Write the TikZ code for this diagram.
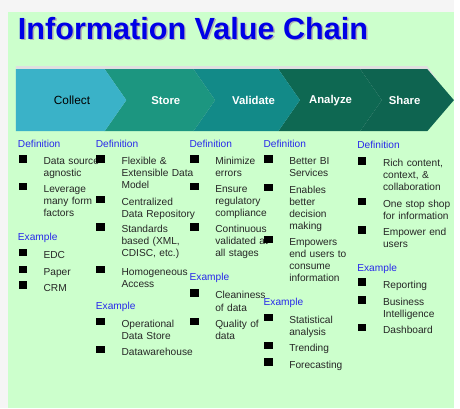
\documentclass[tikz,border=0pt]{standalone}
\usepackage{fontspec}
\setmainfont{Liberation Sans}
\definecolor{panel}{RGB}{204,255,204}
\definecolor{ttlblue}{RGB}{0,0,230}
\definecolor{hdblue}{RGB}{40,40,235}
\definecolor{chA}{RGB}{58,178,200}
\definecolor{chB}{RGB}{28,150,128}
\definecolor{chC}{RGB}{18,138,136}
\definecolor{chD}{RGB}{14,104,82}
\definecolor{chE}{RGB}{14,100,80}

\begin{document}
\begin{tikzpicture}[x=1pt,y=-1pt,
  hd/.style={anchor=base west,inner sep=0,font=\fontsize{10.3}{12}\selectfont,text=hdblue},
  txt/.style={anchor=base west,inner sep=0,align=left,text width=78pt,font=\fontsize{10.3}{12.2}\selectfont,text=black!85},
  sq/.style={fill=black,inner sep=0,minimum width=8.5pt,minimum height=7.5pt},
  chlab/.style={font=\fontsize{11.5}{12}\selectfont\bfseries,text=white,inner sep=0}]
\def\xa{18}
\def\xb{97}
\def\xc{192}
\def\xd{267}
\def\xe{362}
\def\dt{26}
\def\bl{6}
\def\ct{70}
\def\cb{133}
\def\tip{22}

\fill[gray!8] (0,0) rectangle (460,414);
\fill[panel] (8,12) rectangle (460,414);

\node[anchor=base west,inner sep=0,font=\fontsize{31}{32}\selectfont\bfseries,text=gray!60] (ttlS) at (19.5,41.5) {Information Value Chain};
\node[anchor=base west,inner sep=0,font=\fontsize{31}{32}\selectfont\bfseries,text=ttlblue] (ttl) at (18,40) {Information Value Chain};

\fill[gray!25] (16,\ct-3) -- (433,\ct-3) -- (433+\tip,0.5*\ct+0.5*\cb-3) -- (433,\cb-3) -- (16,\cb-3) -- cycle;
\fill[chE] (365,\ct) -- (433,\ct) -- (460,0.5*\ct+0.5*\cb) -- (433,\cb) -- (365,\cb) -- (365+\tip,0.5*\ct+0.5*\cb) -- cycle;
\fill[chD] (282,\ct) -- (365,\ct) -- (365+\tip,0.5*\ct+0.5*\cb) -- (365,\cb) -- (282,\cb) -- (282+\tip,0.5*\ct+0.5*\cb) -- cycle;
\fill[chC] (196,\ct) -- (282,\ct) -- (282+\tip,0.5*\ct+0.5*\cb) -- (282,\cb) -- (196,\cb) -- (196+\tip,0.5*\ct+0.5*\cb) -- cycle;
\fill[chB] (106,\ct) -- (196,\ct) -- (196+\tip,0.5*\ct+0.5*\cb) -- (196,\cb) -- (106,\cb) -- (106+\tip,0.5*\ct+0.5*\cb) -- cycle;
\fill[chA] (16,\ct) -- (106,\ct) -- (106+\tip,0.5*\ct+0.5*\cb) -- (106,\cb) -- (16,\cb) -- cycle;

\node[chlab,text=black,font=\fontsize{12}{12}\selectfont] (collect) at (73,101.5) {Collect};
\node[chlab] (store) at (168,101.5) {Store};
\node[chlab] (validate) at (257,101.5) {Validate};
\node[chlab] (analyze) at (335,101.5) {Analyze};
\node[chlab] (share) at (410,101.5) {Share};

\node[hd] (defA) at (\xa,143+\bl) {Definition};
\node[sq] (sqA1) at (\xa+5,161) {};
\node[txt] (itA1) at (\xa+\dt,161+\bl) {Data source\\agnostic};
\node[sq] (sqA2) at (\xa+5,189) {};
\node[txt] (itA2) at (\xa+\dt,189+\bl) {Leverage\\many form\\factors};
\node[hd] (exA) at (\xa,238+\bl) {Example};
\node[sq] (sqA3) at (\xa+5,256) {};
\node[txt] (itA3) at (\xa+\dt,256+\bl) {EDC};
\node[sq] (sqA4) at (\xa+5,273) {};
\node[txt] (itA4) at (\xa+\dt,273+\bl) {Paper};
\node[sq] (sqA5) at (\xa+5,289) {};
\node[txt] (itA5) at (\xa+\dt,289+\bl) {CRM};

\node[hd] (defB) at (\xb,143+\bl) {Definition};
\node[sq] (sqB1) at (\xb+5,161) {};
\node[txt] (itB1) at (\xb+\dt,161+\bl) {Flexible \&\\Extensible Data\\Model};
\node[sq] (sqB2) at (\xb+5,202) {};
\node[txt] (itB2) at (\xb+\dt,202+\bl) {Centralized\\Data Repository};
\node[sq] (sqB3) at (\xb+5,230) {};
\node[txt] (itB3) at (\xb+\dt,230+\bl) {Standards\\based (XML,\\CDISC, etc.)};
\node[sq] (sqB4) at (\xb+5,273) {};
\node[txt] (itB4) at (\xb+\dt,273+\bl) {Homogeneous\\Access};
\node[hd] (exB) at (\xb,308+\bl) {Example};
\node[sq] (sqB5) at (\xb+5,326) {};
\node[txt] (itB5) at (\xb+\dt,326+\bl) {Operational\\Data Store};
\node[sq] (sqB6) at (\xb+5,354) {};
\node[txt] (itB6) at (\xb+\dt,354+\bl) {Datawarehouse};

\node[hd] (defC) at (\xc,143+\bl) {Definition};
\node[sq] (sqC1) at (\xc+5,161) {};
\node[txt] (itC1) at (\xc+\dt,161+\bl) {Minimize\\errors};
\node[sq] (sqC2) at (\xc+5,189) {};
\node[txt] (itC2) at (\xc+\dt,189+\bl) {Ensure\\regulatory\\compliance};
\node[sq] (sqC3) at (\xc+5,230) {};
\node[txt] (itC3) at (\xc+\dt,230+\bl) {Continuous\\validated at\\all stages};
\node[hd] (exC) at (\xc,278+\bl) {Example};
\node[sq] (sqC4) at (\xc+5,297) {};
\node[txt] (itC4) at (\xc+\dt,297+\bl) {Cleaniness\\of data};
\node[sq] (sqC5) at (\xc+5,326) {};
\node[txt] (itC5) at (\xc+\dt,326+\bl) {Quality of\\data};

\node[hd] (defD) at (\xd,143+\bl) {Definition};
\node[sq] (sqD1) at (\xd+5,161) {};
\node[txt] (itD1) at (\xd+\dt,161+\bl) {Better BI\\Services};
\node[sq] (sqD2) at (\xd+5,190) {};
\node[txt] (itD2) at (\xd+\dt,190+\bl) {Enables\\better\\decision\\making};
\node[sq] (sqD3) at (\xd+5,243) {};
\node[txt] (itD3) at (\xd+\dt,243+\bl) {Empowers\\end users to\\consume\\information};
\node[hd] (exD) at (\xd,304+\bl) {Example};
\node[sq] (sqD4) at (\xd+5,322) {};
\node[txt] (itD4) at (\xd+\dt,322+\bl) {Statistical\\analysis};
\node[sq] (sqD5) at (\xd+5,350) {};
\node[txt] (itD5) at (\xd+\dt,350+\bl) {Trending};
\node[sq] (sqD6) at (\xd+5,367) {};
\node[txt] (itD6) at (\xd+\dt,367+\bl) {Forecasting};

\node[hd] (defE) at (\xe,145+\bl) {Definition};
\node[sq] (sqE1) at (\xe+5,163) {};
\node[txt] (itE1) at (\xe+\dt,163+\bl) {Rich content,\\context, \&\\collaboration};
\node[sq] (sqE2) at (\xe+5,204) {};
\node[txt] (itE2) at (\xe+\dt,204+\bl) {One stop shop\\for information};
\node[sq] (sqE3) at (\xe+5,233) {};
\node[txt] (itE3) at (\xe+\dt,233+\bl) {Empower end\\users};
\node[hd] (exE) at (\xe,269+\bl) {Example};
\node[sq] (sqE4) at (\xe+5,286) {};
\node[txt] (itE4) at (\xe+\dt,286+\bl) {Reporting};
\node[sq] (sqE5) at (\xe+5,304) {};
\node[txt] (itE5) at (\xe+\dt,304+\bl) {Business\\Intelligence};
\node[sq] (sqE6) at (\xe+5,332) {};
\node[txt] (itE6) at (\xe+\dt,332+\bl) {Dashboard};
\end{tikzpicture}
\end{document}
